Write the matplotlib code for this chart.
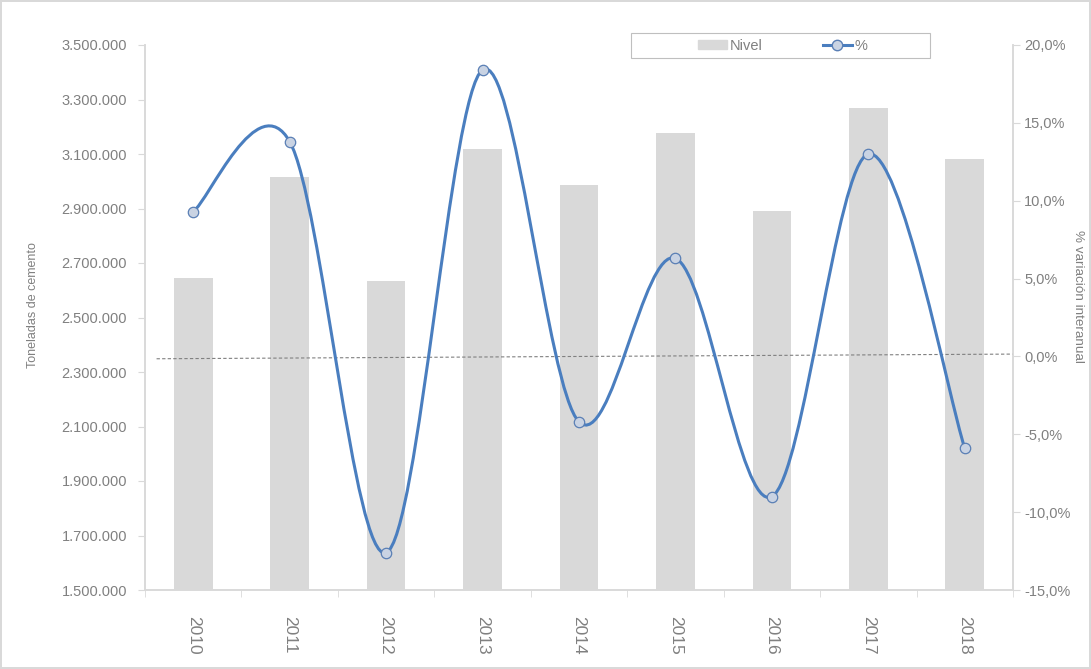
import matplotlib
matplotlib.use("Agg")
import matplotlib.pyplot as plt
from matplotlib.path import Path
from matplotlib.patches import PathPatch, Rectangle
from matplotlib.lines import Line2D
from matplotlib.ticker import FuncFormatter

plt.rcParams['font.family'] = ['Liberation Sans', 'DejaVu Sans']

years = ['2010', '2011', '2012', '2013', '2014', '2015', '2016', '2017', '2018']
nivel = [2645000, 3016000, 2634000, 3118000, 2986000, 3177000, 2891000, 3269000, 3082000]
variacion = [9.3, 13.8, -12.6, 18.4, -4.2, 6.3, -9.0, 13.0, -5.9]
ref_line_x = [-0.38, 8.5]
ref_line_y = [-0.15, 0.15]

bar_col = '#D9D9D9'
line_col = '#4A7EBF'
marker_fill = '#C9D3E3'
txt_col = '#808080'
axis_col = '#D9D9D9'

fig = plt.figure(figsize=(10.91, 6.69), dpi=100)
fig.patch.set_edgecolor('#D9D9D9')
fig.patch.set_linewidth(1.5)
ax = fig.add_axes([145/1091, 1 - 590/669, 868/1091, 545/669])
ax2 = ax.twinx()

x = list(range(len(years)))
ax.bar(x, nivel, width=0.40, color=bar_col, zorder=1)
ax.set_ylim(1500000, 3500000)
ax.set_yticks(range(1500000, 3500001, 200000))
ax.yaxis.set_major_formatter(FuncFormatter(lambda v, p: f'{int(v):,}'.replace(',', '.')))
ax.set_xlim(-0.5, 8.5)
ax.set_xticks(x)
ax.set_xticklabels(years, rotation=270, fontsize=12.5, color=txt_col)
ax.set_xticks([i + 0.5 for i in range(-1, len(years))], minor=True)
ax.tick_params(axis='x', which='major', length=0, pad=19)
ax.tick_params(axis='x', which='minor', length=5, color=axis_col)
ax.tick_params(axis='y', length=5, color=axis_col, labelcolor=txt_col, labelsize=10.5, pad=8)
ax.set_ylabel('Toneladas de cemento', fontsize=9, color=txt_col)
ax.yaxis.set_label_coords(-0.122, 0.522)

# reference dashed line
ax2.plot(ref_line_x, ref_line_y, ls=(0, (3, 2)), color='#808080', lw=0.8, zorder=2)

# smoothed line (Excel-style bezier through points)
pts = list(zip(x, variacion))
verts = [pts[0]]
codes = [Path.MOVETO]
n = len(pts)
for i in range(n - 1):
    p0 = pts[i - 1] if i > 0 else pts[i]
    p1 = pts[i]
    p2 = pts[i + 1]
    p3 = pts[i + 2] if i + 2 < n else pts[i + 1]
    c1 = (p1[0] + (p2[0] - p0[0]) / 6, p1[1] + (p2[1] - p0[1]) / 6)
    c2 = (p2[0] - (p3[0] - p1[0]) / 6, p2[1] - (p3[1] - p1[1]) / 6)
    verts += [c1, c2, p2]
    codes += [Path.CURVE4] * 3
ax2.add_patch(PathPatch(Path(verts, codes), facecolor='none', edgecolor=line_col, lw=2.2, zorder=3))
ax2.plot(x, variacion, ls='none', marker='o', ms=7.5, mfc=marker_fill, mec='#5A7FB5', mew=0.9, zorder=4)

ax2.set_ylim(-15, 20)
ax2.set_yticks(range(-15, 21, 5))
ax2.yaxis.set_major_formatter(FuncFormatter(lambda v, p: f'{v:.1f}%'.replace('.', ',')))
ax2.tick_params(axis='y', length=5, color=axis_col, labelcolor=txt_col, labelsize=10.5, pad=3)
ax2.set_ylabel('% variación interanual', fontsize=9.7, color=txt_col, rotation=270, va='center')
ax2.yaxis.set_label_coords(1.075, 0.538)

for a in (ax, ax2):
    a.spines['top'].set_visible(False)
    for s in ('left', 'right', 'bottom'):
        a.spines[s].set_color(axis_col)
        a.spines[s].set_linewidth(1.2)

# legend box
fig.patches.append(Rectangle((631/1091, 1 - 58/669), 299/1091, 25/669, transform=fig.transFigure,
                             facecolor='white', edgecolor='#BFBFBF', lw=0.8, zorder=9))
handles = [plt.Rectangle((0, 0), 1, 1, color=bar_col),
           Line2D([0], [0], color=line_col, lw=2.2, marker='o', ms=7.5, mfc=marker_fill, mec='#5A7FB5')]
leg = fig.legend(handles, ['Nivel', '%'], ncol=2, loc='center',
                 bbox_to_anchor=(783/1091, 1 - 45.5/669), frameon=False,
                 fontsize=10.5, handlelength=2.0, handleheight=0.6,
                 handletextpad=0.2, columnspacing=4.1, borderpad=0.2)
for t in leg.get_texts():
    t.set_color(txt_col)
leg.set_zorder(10)

fig.savefig('out.png', dpi=100)
